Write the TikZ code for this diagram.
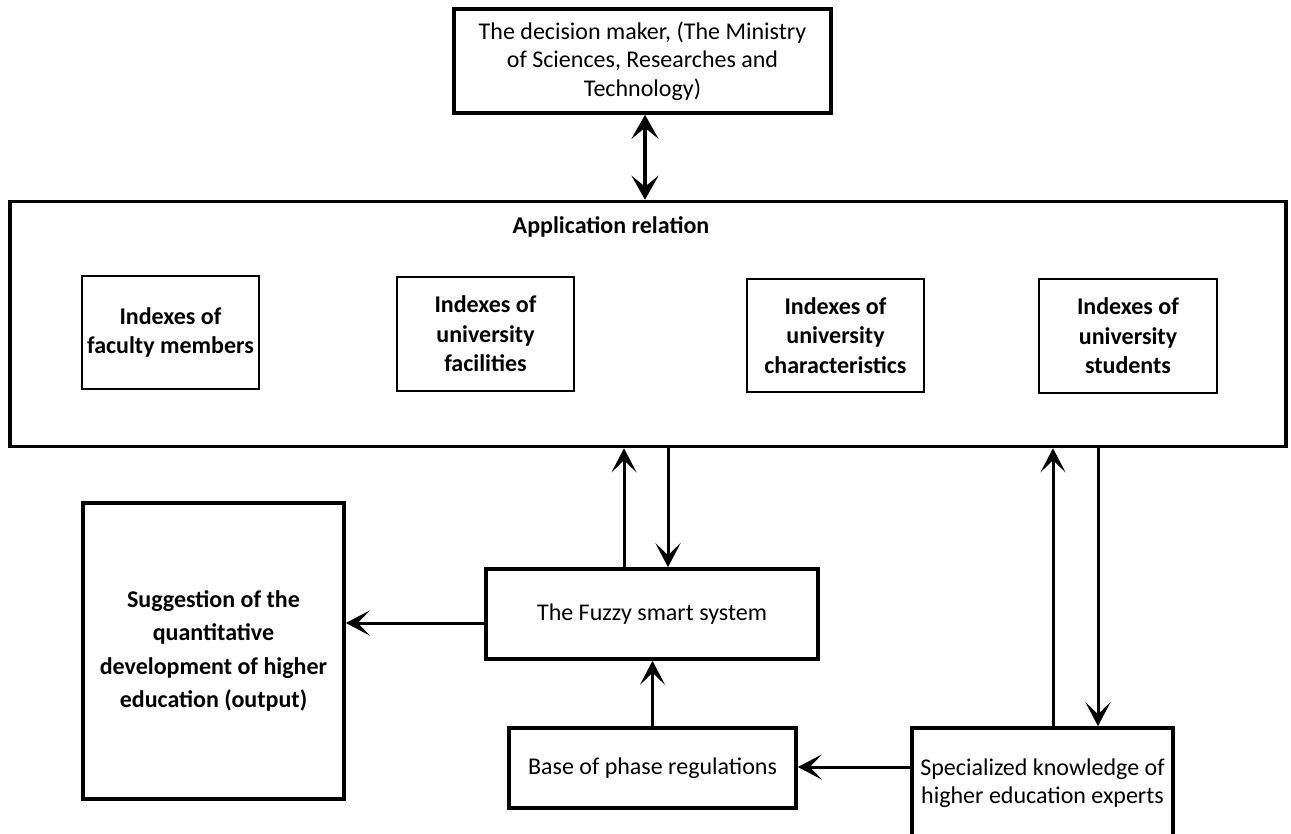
\documentclass[tikz,border=0pt]{standalone}
\usepackage{fontspec}
\setmainfont{Carlito}
\usetikzlibrary{arrows.meta,calc}
\begin{document}
\begin{tikzpicture}[x=1pt,y=-1pt,
  thickbox/.style={draw, line width=3.6pt, rectangle, inner sep=0pt, align=center},
  thinbox/.style={draw, line width=1.8pt, rectangle, inner sep=0pt, align=center,
    minimum width=177pt, minimum height=113pt, font=\fontsize{24}{29.5}\selectfont\bfseries},
  arr/.style={line width=3pt, -{Stealth[length=24pt,width=25pt,inset=12pt]}},
  dblarr/.style={line width=3.8pt, {Stealth[length=24pt,width=27pt,inset=11pt]}-{Stealth[length=24pt,width=27pt,inset=11pt]}},
  reg/.style={font=\fontsize{24}{28.5}\selectfont},
]
\useasboundingbox[fill=white] (0,0) rectangle (1291,833);

% top box
\node[thickbox, reg, minimum width=377pt, minimum height=104pt] (dm) at (642.5,61)
  {The decision maker, (The Ministry\\of Sciences, Researches and\\Technology)};

% big box
\node[thickbox, minimum width=1276pt, minimum height=245pt] (app) at (648,324) {};
\node[font=\fontsize{24}{28}\selectfont\bfseries, inner sep=0pt] (apptitle) at (611,227) {Application relation};

% index boxes
\node[thinbox] (i1) at (170.5,332.5) {Indexes of\\faculty members};
\node[thinbox, minimum height=114pt] (i2) at (485.5,334) {Indexes of\\university\\facilities};
\node[thinbox] (i3) at (835.5,335.5) {Indexes of\\university\\characteristics};
\node[thinbox, minimum width=178pt, minimum height=114pt] (i4) at (1128,336) {Indexes of\\university\\students};

% lower boxes
\node[thickbox, reg, minimum width=332pt, minimum height=90pt] (fz) at (652,614) {The Fuzzy smart system};
\node[thickbox, font=\fontsize{24}{33.5}\selectfont\bfseries, minimum width=261pt, minimum height=296pt] (sg) at (213.5,651)
  {Suggestion of the\\quantitative\\development of higher\\education (output)};
\node[thickbox, reg, minimum width=287pt, minimum height=80pt] (bs) at (652.5,768) {Base of phase regulations};
\node[thickbox, reg, minimum width=261pt, minimum height=110pt] (sp) at (1042.5,783)
  {Specialized knowledge of\\higher education experts};

% connectors
\draw[dblarr] ([xshift=2.5pt]dm.south) -- ([xshift=2.5pt]dm.south |- app.north);
\draw[arr] ([xshift=-28pt]fz.north) -- ([xshift=-28pt]fz.north |- app.south);
\draw[arr] ([xshift=16pt]fz.north |- app.south) -- ([xshift=16pt]fz.north);
\draw[arr] ([yshift=-9pt]fz.west) -- ([yshift=-9pt]fz.west -| sg.east);
\draw[arr] (bs.north) -- (bs.north |- fz.south);
\draw[arr] ([yshift=16pt]sp.west) -- ([yshift=16pt]sp.west -| bs.east);
\draw[arr] ([xshift=10.5pt]sp.north) -- ([xshift=10.5pt]sp.north |- app.south);
\draw[arr] ([xshift=55.5pt]sp.north |- app.south) -- ([xshift=55.5pt]sp.north);
\end{tikzpicture}
\end{document}
